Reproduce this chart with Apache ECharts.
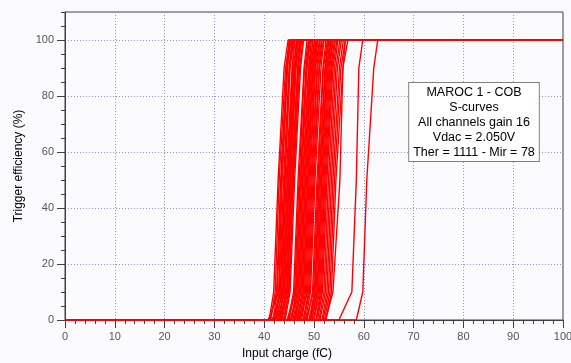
<!DOCTYPE html>
<html>
<head>
<meta charset="utf-8">
<script src="https://cdn.jsdelivr.net/npm/echarts@6/dist/echarts.min.js"></script>
<style>
html,body{margin:0;padding:0;background:#fbfafd;}
#chart{width:571px;height:363px;}
</style>
</head>
<body>
<div id="chart"></div>
<script>
// Efficiency levels (%) at which each channel's input charge (fC) was read
var levels = [0, 10, 50, 90, 100];
// One row per channel: charge (fC) at the levels above
var chargeAtLevel = [
  [41.0, 41.9, 42.8, 44.0, 44.8],
  [41.3, 42.2, 43.0, 44.3, 45.1],
  [41.2, 42.5, 43.3, 44.5, 45.0],
  [41.8, 42.6, 43.5, 44.6, 45.4],
  [40.8, 42.9, 43.6, 44.7, 45.2],
  [42.0, 43.0, 43.9, 45.0, 45.6],
  [42.2, 43.2, 44.1, 45.2, 45.9],
  [41.6, 43.4, 44.2, 45.1, 45.7],
  [42.5, 43.5, 44.4, 45.6, 46.2],
  [42.3, 43.7, 44.6, 45.7, 46.0],
  [42.9, 43.8, 44.7, 45.9, 46.5],
  [43.0, 44.0, 44.9, 46.0, 46.6],
  [42.6, 44.1, 45.0, 46.2, 46.8],
  [43.3, 44.3, 45.2, 46.3, 46.9],
  [43.1, 44.5, 45.3, 46.4, 47.2],
  [43.6, 44.6, 45.5, 46.7, 47.3],
  [43.4, 44.7, 45.6, 46.8, 47.5],
  [43.9, 44.9, 45.8, 46.9, 47.4],
  [44.0, 45.0, 45.9, 47.1, 47.8],
  [44.2, 45.2, 46.1, 47.3, 47.9],
  [44.8, 45.9, 46.8, 48.0, 48.6],
  [45.0, 46.1, 47.0, 48.1, 48.9],
  [44.6, 46.3, 47.2, 48.4, 49.0],
  [45.4, 46.4, 47.3, 48.5, 49.1],
  [45.5, 46.6, 47.5, 48.6, 49.3],
  [45.8, 46.8, 47.7, 48.9, 49.5],
  [45.2, 46.9, 47.8, 49.0, 49.8],
  [46.0, 47.1, 48.0, 49.2, 49.8],
  [46.3, 47.3, 48.2, 49.3, 50.1],
  [46.1, 47.4, 48.3, 49.5, 50.2],
  [46.6, 47.6, 48.5, 49.7, 50.4],
  [46.8, 47.8, 48.7, 49.8, 50.6],
  [46.5, 47.9, 48.8, 50.0, 50.7],
  [47.0, 48.1, 49.0, 50.2, 50.8],
  [47.3, 48.3, 49.2, 50.3, 51.1],
  [47.5, 48.5, 49.4, 50.6, 51.2],
  [47.1, 48.7, 49.6, 50.7, 51.5],
  [47.8, 48.9, 49.8, 51.0, 51.6],
  [48.0, 49.1, 50.0, 51.1, 51.9],
  [48.3, 49.3, 50.2, 51.4, 52.0],
  [48.6, 49.7, 50.6, 51.8, 52.4],
  [48.4, 49.9, 50.8, 51.9, 52.7],
  [49.0, 50.1, 51.0, 52.2, 52.8],
  [49.2, 50.2, 51.1, 52.3, 53.0],
  [49.3, 50.4, 51.3, 52.5, 53.2],
  [49.6, 50.6, 51.5, 52.6, 53.4],
  [49.5, 50.7, 51.6, 52.8, 53.5],
  [49.9, 50.9, 51.8, 53.0, 53.7],
  [50.0, 51.1, 52.0, 53.2, 53.8],
  [50.4, 51.3, 52.2, 53.4, 54.1],
  [50.5, 51.5, 52.4, 53.6, 54.3],
  [50.7, 51.7, 52.6, 53.8, 54.6],
  [51.0, 52.0, 52.9, 54.1, 54.8],
  [51.2, 52.3, 53.2, 54.4, 55.2],
  [51.6, 52.6, 53.5, 54.7, 55.5],
  [51.8, 52.9, 53.8, 55.1, 55.9],
  [52.1, 53.2, 54.1, 55.4, 56.3],
  [52.4, 53.5, 54.4, 55.8, 56.8],
  [52.3, 53.8, 55.2, 55.8, 56.3],
  [55.0, 57.6, 58.5, 59.0, 59.8],
  [58.5, 59.8, 60.6, 62.0, 62.8]
];
var chargeRange = [0, 100];
var xTickLabels = [0, 10, 20, 30, 40, 50, 60, 70, 80, 90, 100];
var yTickLabels = [0, 20, 40, 60, 80, 100];
var infoLines = ['MAROC 1 - COB', 'S-curves', 'All channels gain 16', 'Vdac = 2.050V', 'Ther = 1111 - Mir = 78'];

var FONT = 'Liberation Sans, Arial, sans-serif';
var AX = '#404040';

var series = chargeAtLevel.map(function (row, i) {
  var pts = [[chargeRange[0], 0]];
  row.forEach(function (x, k) { pts.push([x, levels[k]]); });
  pts.push([chargeRange[1], 100]);
  return {
    type: 'line', name: 'ch' + i, data: pts, xAxisIndex: 0, yAxisIndex: 0,
    showSymbol: false, symbol: 'none', silent: true,
    lineStyle: { color: '#ff0000', width: 1.4 }, z: 3
  };
});

var chart = echarts.init(document.getElementById('chart'), null, { renderer: 'canvas' });
chart.setOption({
  animation: false,
  backgroundColor: '#fbfafd',
  grid: { left: 65, right: 8, top: 12, bottom: 43, show: true, borderColor: AX, borderWidth: 1,
          backgroundColor: '#fbfafd', containLabel: false, outerBoundsMode: 'none' },
  xAxis: [{
    type: 'value', min: 0, max: 100, interval: 10, position: 'bottom',
    name: 'Input charge (fC)', nameLocation: 'middle', nameGap: 28,
    nameTextStyle: { fontFamily: FONT, fontSize: 12, color: '#000', padding: [0, 54, 0, 0] },
    axisLine: { show: true, onZero: false, lineStyle: { color: AX, width: 1 } },
    axisTick: { show: true, inside: false, length: 8, lineStyle: { color: AX } },
    axisLabel: { fontFamily: FONT, fontSize: 11, color: '#555', margin: 11,
                 customValues: xTickLabels },
    splitLine: { show: true, lineStyle: { color: '#8c8cff', type: [1, 2], width: 1 } }
  }, {
    type: 'value', min: 0, max: 100, interval: 2, position: 'bottom',
    axisLine: { show: false }, axisLabel: { show: false }, splitLine: { show: false },
    axisTick: { show: true, length: 4, lineStyle: { color: AX } }
  }],
  yAxis: [{
    type: 'value', min: 0, max: 110, interval: 20, position: 'left',
    name: 'Trigger efficiency (%)', nameLocation: 'middle', nameGap: 40,
    nameTextStyle: { fontFamily: FONT, fontSize: 12, color: '#000' },
    axisLine: { show: true, onZero: false, lineStyle: { color: AX, width: 1 } },
    axisTick: { show: true, length: 8, lineStyle: { color: AX }, customValues: yTickLabels },
    axisLabel: { fontFamily: FONT, fontSize: 11, color: '#555', margin: 11,
                 customValues: yTickLabels },
    splitLine: { show: true, lineStyle: { color: '#8c8cff', type: [1, 2], width: 1 } }
  }, {
    type: 'value', min: 0, max: 110, interval: 5, position: 'left',
    axisLine: { show: false }, axisLabel: { show: false }, splitLine: { show: false },
    axisTick: { show: true, length: 4, lineStyle: { color: AX } }
  }],
  graphic: [{
    type: 'text', x: 474, y: 83, z: 100, zlevel: 1,
    style: { text: infoLines.join('\n'), fontFamily: FONT, fontSize: 12.5, fill: '#000',
             align: 'center', verticalAlign: 'top', lineHeight: 15,
             backgroundColor: '#ffffff', borderColor: '#808080', borderWidth: 1,
             padding: [2, 4, 1, 4] }
  }],
  series: series
});
</script>
</body>
</html>
